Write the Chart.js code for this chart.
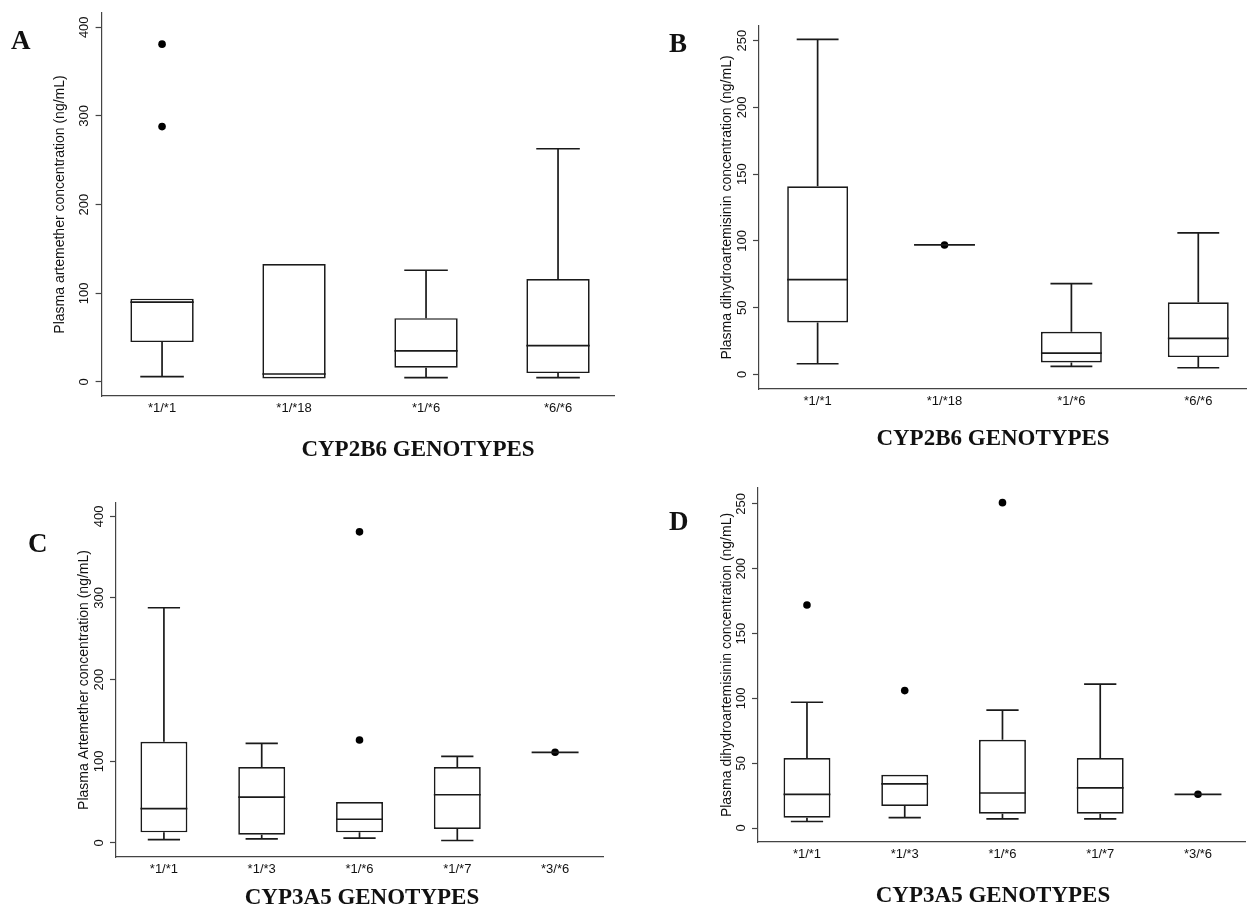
<!DOCTYPE html>
<html>
<head>
<meta charset="utf-8">
<title>Plasma concentrations by CYP2B6 / CYP3A5 genotype</title>
<script src="https://cdn.jsdelivr.net/npm/chart.js@4.4.1/dist/chart.umd.min.js"></script>
<style>
  body { margin: 0; background: #fff; }
  #page { position: relative; width: 1250px; height: 906px; overflow: hidden; }
  .panel { position: absolute; width: 625px; height: 453px; }
  .letter { position: absolute; font: bold 27px/27px "Liberation Serif", "Times New Roman", serif; color: #111; }
  .xtitle { position: absolute; font: bold 23px/23px "Liberation Serif", "Times New Roman", serif; color: #111;
            transform: translateX(-50%); white-space: nowrap; }
</style>
</head>
<body>
<div id="page">
  <div class="panel" style="left:0;top:0"><canvas id="chartA" width="625" height="453"></canvas></div>
  <div class="panel" style="left:625px;top:0"><canvas id="chartB" width="625" height="453"></canvas></div>
  <div class="panel" style="left:0;top:453px"><canvas id="chartC" width="625" height="453"></canvas></div>
  <div class="panel" style="left:625px;top:453px"><canvas id="chartD" width="625" height="453"></canvas></div>

  <div class="letter" style="left:11px;top:27px">A</div>
  <div class="letter" style="left:669px;top:30px">B</div>
  <div class="letter" style="left:28px;top:530px">C</div>
  <div class="letter" style="left:669px;top:508px">D</div>

  <div class="xtitle" style="left:418px;top:437px">CYP2B6 GENOTYPES</div>
  <div class="xtitle" style="left:993px;top:426px">CYP2B6 GENOTYPES</div>
  <div class="xtitle" style="left:362px;top:885px">CYP3A5 GENOTYPES</div>
  <div class="xtitle" style="left:993px;top:883px">CYP3A5 GENOTYPES</div>
</div>

<script>
// genotype groups
const cyp2b6Genotypes = ['*1/*1', '*1/*18', '*1/*6', '*6/*6'];
const cyp3a5Genotypes = ['*1/*1', '*1/*3', '*1/*6', '*1/*7', '*3/*6'];

// box stats per group: [min, q1, median, q3, max]  (ng/mL)
const artemetherByCyp2b6 = [[6, 45, 90, 94, 94], [4, 4, 9, 133, 133], [5, 16, 35, 72, 126], [5, 10, 41, 116, 263]];
const dhaByCyp2b6 = [[8, 39, 71, 141, 251], [97, 97, 97, 97, 97], [6, 9, 16, 32, 68], [5, 13, 27, 54, 106]];
const artemetherByCyp3a5 = [[4, 13, 42, 124, 288], [5, 10, 56, 93, 122], [6, 13, 29, 50, 50], [3, 17, 59, 93, 106], [111, 111, 111, 111, 111]];
const dhaByCyp3a5 = [[5, 8, 26, 54, 97], [8, 17, 34, 41, 41], [7, 11, 27, 68, 91], [7, 11, 31, 54, 111], [26, 26, 26, 26, 26]];

// single dots (outliers / single observations) per group
const artemetherByCyp2b6Dots = [[381, 288], [], [], []];
const dhaByCyp2b6Dots = [[], [97], [], []];
const artemetherByCyp3a5Dots = [[], [], [381, 126], [], [111]];
const dhaByCyp3a5Dots = [[172], [106], [251], [], [26]];

// y tick labels
const artemetherTicks = [0, 100, 200, 300, 400];
const dhaTicks = [0, 50, 100, 150, 200, 250];

const ink = '#1a1a1a';
const axisGrey = '#444';
const lineW = 1.7;
const boxFrac = 0.48;   // box width as share of group spacing
const capFrac = 0.33;   // whisker cap width

// draws whiskers (under boxes) and medians (over boxes)
function boxPlugin(stats) {
  return {
    id: 'boxparts',
    beforeDatasetsDraw(chart) {
      const {ctx, scales: {x, y}} = chart;
      const step = x.getPixelForValue(2) - x.getPixelForValue(1);
      const cap = step * capFrac / 2;
      ctx.save();
      ctx.strokeStyle = ink;
      ctx.lineWidth = lineW;
      ctx.beginPath();
      stats.forEach((s, i) => {
        const cx = x.getPixelForValue(i + 1);
        if (s[0] < s[1]) {
          ctx.moveTo(cx, y.getPixelForValue(s[1]));
          ctx.lineTo(cx, y.getPixelForValue(s[0]));
          ctx.moveTo(cx - cap, y.getPixelForValue(s[0]));
          ctx.lineTo(cx + cap, y.getPixelForValue(s[0]));
        }
        if (s[4] > s[3]) {
          ctx.moveTo(cx, y.getPixelForValue(s[3]));
          ctx.lineTo(cx, y.getPixelForValue(s[4]));
          ctx.moveTo(cx - cap, y.getPixelForValue(s[4]));
          ctx.lineTo(cx + cap, y.getPixelForValue(s[4]));
        }
      });
      ctx.stroke();
      ctx.restore();
    },
    afterDatasetsDraw(chart) {
      const {ctx, scales: {x, y}} = chart;
      const step = x.getPixelForValue(2) - x.getPixelForValue(1);
      const half = step * boxFrac / 2;
      ctx.save();
      ctx.strokeStyle = ink;
      ctx.lineWidth = lineW;
      ctx.beginPath();
      stats.forEach((s, i) => {
        const cx = x.getPixelForValue(i + 1);
        const my = y.getPixelForValue(s[2]);
        ctx.moveTo(cx - half, my);
        ctx.lineTo(cx + half, my);
      });
      ctx.stroke();
      ctx.restore();
    }
  };
}

function makePanel(id, groups, stats, dots, yTicks, yTitle, lay) {
  const boxes = stats
    .map((s, i) => ({x: i + 1, y: [s[1], s[3]]}))
    .filter(d => d.y[0] !== d.y[1]);
  const points = [];
  dots.forEach((vals, i) => vals.forEach(v => points.push({x: i + 1, y: v})));

  new Chart(document.getElementById(id), {
    type: 'bar',
    data: {
      datasets: [{
        type: 'bar',
        data: boxes,
        backgroundColor: '#fff',
        borderColor: ink,
        borderWidth: lineW,
        borderSkipped: false,
        barPercentage: boxFrac,
        categoryPercentage: 1
      }, {
        type: 'scatter',
        data: points,
        pointRadius: 3.8,
        pointBackgroundColor: '#000',
        pointBorderWidth: 0,
        showLine: false
      }]
    },
    options: {
      responsive: false,
      animation: false,
      layout: {padding: lay.pad},
      plugins: {legend: {display: false}, tooltip: {enabled: false}},
      scales: {
        x: {
          type: 'linear',
          min: lay.x[0],
          max: lay.x[1],
          offset: false,
          bounds: 'data',
          grid: {display: false, drawTicks: false, offset: false},
          border: {display: true, color: axisGrey, width: 1.2},
          ticks: {
            autoSkip: false, maxRotation: 0, minRotation: 0, padding: 4.5,
            color: '#111', font: {family: '"Liberation Sans", Arial, sans-serif', size: 13},
            callback: v => groups[v - 1]
          },
          afterBuildTicks: s => { s.ticks = groups.map((g, i) => ({value: i + 1})); },
          afterFit: s => { s.height = lay.xHeight; }
        },
        y: {
          type: 'linear',
          min: lay.y[0],
          max: lay.y[1],
          bounds: 'data',
          grid: {display: true, drawOnChartArea: false, drawTicks: true, tickLength: 6, tickColor: axisGrey, tickWidth: 1.2},
          border: {display: true, color: axisGrey, width: 1.2},
          ticks: {
            autoSkip: false, minRotation: 90, maxRotation: 90, crossAlign: 'center', padding: 0,
            color: '#111', font: {family: '"Liberation Sans", Arial, sans-serif', size: 13}
          },
          afterBuildTicks: s => { s.ticks = yTicks.map(v => ({value: v})); },
          title: {
            display: true, text: yTitle, color: '#111',
            font: {family: '"Liberation Sans", Arial, sans-serif', size: 14},
            padding: {top: lay.titlePad, bottom: 0}
          },
          afterFit: s => { s.width = lay.yWidth; }
        }
      }
    },
    plugins: [boxPlugin(stats)]
  });
}

makePanel('chartA', cyp2b6Genotypes, artemetherByCyp2b6, artemetherByCyp2b6Dots, artemetherTicks,
  'Plasma artemether concentration (ng/mL)',
  {pad: {top: 13, right: 11, bottom: 0, left: 0}, yWidth: 101.6, xHeight: 57, titlePad: 51.6,
   x: [0.542, 4.424], y: [-15.8, 416.1]});

makePanel('chartB', cyp2b6Genotypes, dhaByCyp2b6, dhaByCyp2b6Dots, dhaTicks,
  'Plasma dihydroartemisinin concentration (ng/mL)',
  {pad: {top: 26, right: 1, bottom: 0, left: 0}, yWidth: 134, xHeight: 64, titlePad: 93.6,
   x: [0.538, 4.376], y: [-10.9, 261.0]});

makePanel('chartC', cyp3a5Genotypes, artemetherByCyp3a5, artemetherByCyp3a5Dots, artemetherTicks,
  'Plasma Artemether concentration (ng/mL)',
  {pad: {top: 50, right: 21.4, bottom: 0, left: 0}, yWidth: 116, xHeight: 49, titlePad: 75.6,
   x: [0.51, 5.496], y: [-17.2, 416.3]});

makePanel('chartD', cyp3a5Genotypes, dhaByCyp3a5, dhaByCyp3a5Dots, dhaTicks,
  'Plasma dihydroartemisinin concentration (ng/mL)',
  {pad: {top: 35, right: 5, bottom: 0, left: 0}, yWidth: 133, xHeight: 64, titlePad: 93.6,
   x: [0.499, 5.481], y: [-10.8, 262.3]});
</script>
</body>
</html>
